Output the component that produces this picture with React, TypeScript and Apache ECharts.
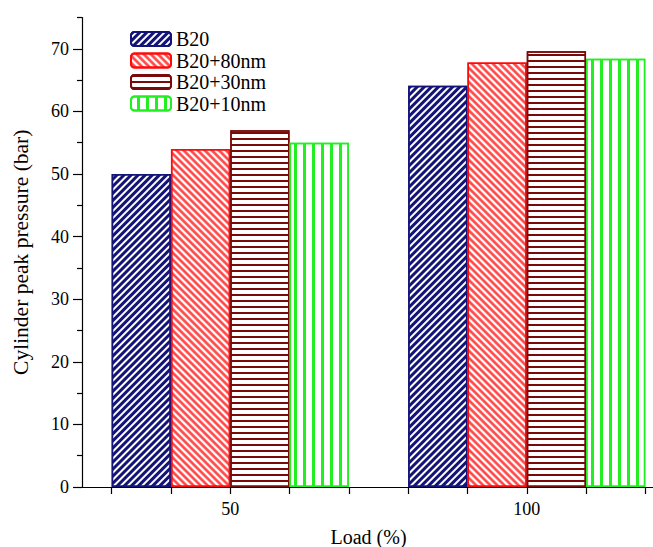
import React, { useEffect, useRef } from "react";
import * as echarts from "echarts";

const categories = ["50", "100"];
const seriesNames = ["B20", "B20+80nm", "B20+30nm", "B20+10nm"];
const b20 = [50, 64.1];
const b20_80 = [54, 67.8];
const b20_30 = [57, 69.6];
const b20_10 = [55, 68.4];
const yMajorTicks = [0, 10, 20, 30, 40, 50, 60, 70];
const yMinorTicks = [5, 15, 25, 35, 45, 55, 65, 75];
const xTickSlots = ["", "", "", "", "", "", "", "", "", ""];

const FONT = "'Liberation Serif', 'Times New Roman', serif";

export default function App() {
  const ref = useRef<HTMLDivElement>(null);
  useEffect(() => {
    if (!ref.current) return;
    const chart = echarts.init(ref.current, undefined, { renderer: "svg" });
    const values = [b20, b20_80, b20_30, b20_10];
    const colors = ["#141478", "#ff0a0a", "#7a0a0a", "#22ee22"];
    const decals: any[] = [
      { symbol: "rect", dashArrayX: [1, 0], dashArrayY: [2.1, 1.8], rotation: -Math.PI / 4 },
      { symbol: "rect", dashArrayX: [1, 0], dashArrayY: [2.3, 1.7], rotation: Math.PI / 4 },
      { symbol: "rect", dashArrayX: [1, 0], dashArrayY: [2, 3.8], rotation: 0 },
      { symbol: "rect", dashArrayX: [1, 0], dashArrayY: [3, 5.7], rotation: Math.PI / 2 },
    ];
    const series = seriesNames.map((name, i) => ({
      name,
      type: "bar",
      xAxisIndex: 0,
      yAxisIndex: 0,
      data: values[i],
      barGap: "0%",
      barCategoryGap: "20%",
      itemStyle: {
        color: "#ffffff",
        borderColor: colors[i],
        borderWidth: 1.5,
        decal: { ...decals[i], color: colors[i] },
      },
    }));
    chart.setOption({
      animation: false,
      backgroundColor: "#ffffff",
      aria: { enabled: true, decal: { show: true } },
      textStyle: { fontFamily: FONT },
      grid: { left: 82, top: 17.5, right: -22, bottom: 60, containLabel: false, outerBoundsMode: "none" },
      legend: {
        orient: "vertical",
        left: 130,
        top: 29,
        itemWidth: 40,
        itemHeight: 14,
        itemGap: 1.5,
        padding: 0,
        textStyle: { fontSize: 20, lineHeight: 20, fontFamily: FONT, color: "#000" },
        data: seriesNames,
      },
      xAxis: [
        {
          type: "category",
          data: categories,
          position: "bottom",
          axisLine: { show: true, lineStyle: { color: "#000", width: 1.2 } },
          axisTick: { show: false },
          axisLabel: { color: "#000", fontSize: 18, fontFamily: FONT, margin: 13 },
          name: "Load (%)",
          nameLocation: "middle",
          nameGap: 40,
          nameTextStyle: { fontSize: 20, fontFamily: FONT, color: "#000", padding: [0, 20, 0, 0] },
          splitLine: { show: false },
        },
        {
          type: "category",
          data: xTickSlots,
          position: "bottom",
          boundaryGap: true,
          axisLine: { show: false },
          axisTick: { show: true, alignWithLabel: true, length: 7, lineStyle: { color: "#000", width: 1.2 } },
          axisLabel: { show: false },
          splitLine: { show: false },
        },
      ],
      yAxis: [
        {
          type: "value",
          min: 0,
          max: 75,
          interval: 5,
          position: "left",
          axisLine: { show: true, lineStyle: { color: "#000", width: 1.2 } },
          axisTick: { show: true, customValues: yMajorTicks, length: 9, lineStyle: { color: "#000", width: 1.2 } },
          axisLabel: { customValues: yMajorTicks, color: "#000", fontSize: 18, fontFamily: FONT, margin: 13 },
          splitLine: { show: false },
          name: "Cylinder peak pressure (bar)",
          nameLocation: "middle",
          nameGap: 50,
          nameTextStyle: { fontSize: 21.5, fontFamily: FONT, color: "#000" },
        },
        {
          type: "value",
          min: 0,
          max: 75,
          interval: 5,
          position: "left",
          axisLine: { show: false },
          axisTick: { show: true, customValues: yMinorTicks, length: 5, lineStyle: { color: "#000", width: 1.2 } },
          axisLabel: { show: false },
          splitLine: { show: false },
        },
      ],
      series,
    });
    return () => chart.dispose();
  }, []);
  return <div ref={ref} style={{ width: 653, height: 547, position: "absolute", left: 0, top: 0 }} />;
}
